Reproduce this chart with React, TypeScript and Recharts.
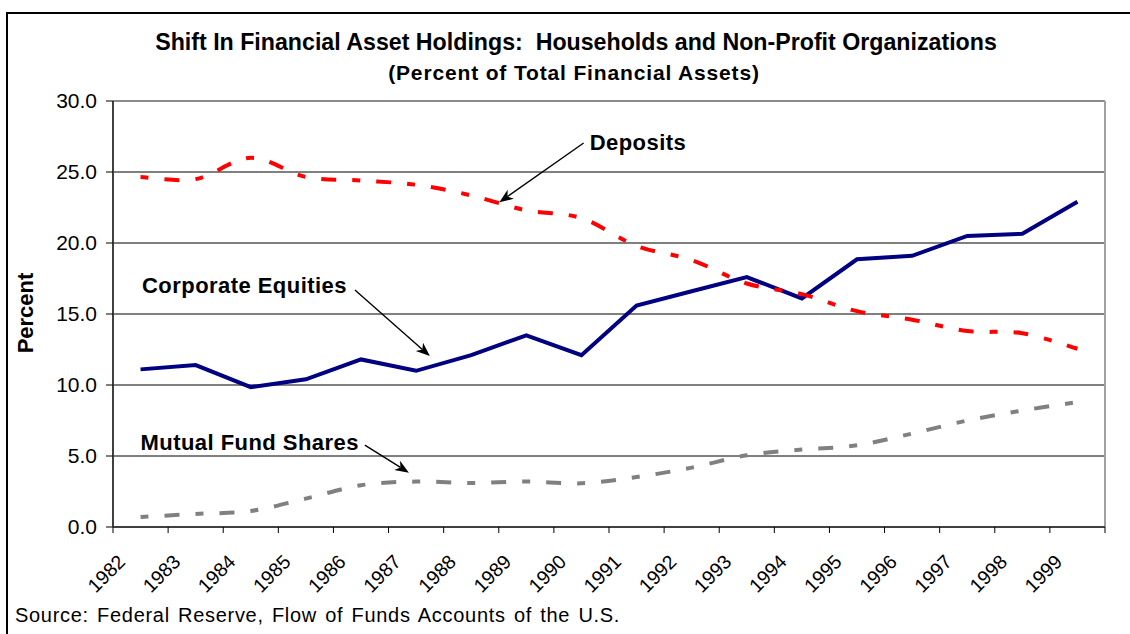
import React from 'react';
import { LineChart, Line, XAxis, YAxis, CartesianGrid, ReferenceLine } from 'recharts';

const YEARS = ['1982', '1983', '1984', '1985', '1986', '1987', '1988', '1989', '1990', '1991', '1992', '1993', '1994', '1995', '1996', '1997', '1998', '1999'];
const DEPOSITS = [24.65, 24.5, 26.0, 24.65, 24.4, 24.1, 23.35, 22.3, 21.75, 19.8, 18.8, 17.15, 16.4, 15.2, 14.6, 13.8, 13.65, 12.55];
const EQUITIES = [11.1, 11.4, 9.85, 10.4, 11.8, 11.0, 12.1, 13.5, 12.1, 15.6, 16.6, 17.6, 16.1, 18.85, 19.1, 20.5, 20.65, 22.9];
const MUTUAL = [0.7, 0.92, 1.13, 2.0, 2.94, 3.2, 3.1, 3.2, 3.08, 3.52, 4.18, 5.05, 5.45, 5.75, 6.58, 7.5, 8.2, 8.8];
const Y_TICKS = [0, 5, 10, 15, 20, 25, 30];

const TITLE = 'Shift In Financial Asset Holdings:  Households and Non-Profit Organizations';
const SUBTITLE = '(Percent of Total Financial Assets)';
const SOURCE = 'Source: Federal Reserve, Flow of Funds Accounts of the U.S.';
const Y_LABEL = 'Percent';

const ANNOTATIONS = [
  { text: 'Deposits', from: [8.54, 27.04], to: [7.01, 22.87], anchor: 'start', dx: 6, dy: 7 },
  { text: 'Corporate Equities', from: [4.39, 16.69], to: [5.75, 12.04], anchor: 'end', dx: -8, dy: 3 },
  { text: 'Mutual Fund Shares', from: [4.57, 5.77], to: [5.37, 3.82], anchor: 'end', dx: -6, dy: 5 },
];

const data = YEARS.map((year, i) => ({
  x: i + 0.5,
  year,
  deposits: DEPOSITS[i],
  equities: EQUITIES[i],
  mutual: MUTUAL[i],
}));
const BOUNDARY_TICKS = YEARS.map((_, i) => i).concat([YEARS.length]);

const W = 1130;
const H = 634;
const MARGIN = { top: 101, right: 25, bottom: 0, left: 0 };
const Y_AXIS_W = 113;
const X_AXIS_H = 107;
const PLOT_W = W - MARGIN.left - MARGIN.right - Y_AXIS_W;
const HALF_BAND = PLOT_W / YEARS.length / 2;
const FONT = '"Liberation Sans", Arial, sans-serif';

// Excel-like smoothing (Catmull-Rom style bezier)
function smoothCurve(context: any) {
  let pts: number[][] = [];
  return {
    areaStart() {},
    areaEnd() {},
    lineStart() {
      pts = [];
    },
    lineEnd() {
      const n = pts.length;
      if (!n) return;
      context.moveTo(pts[0][0], pts[0][1]);
      const t = 1 / 6;
      for (let i = 0; i < n - 1; i++) {
        const p0 = pts[i - 1] || pts[i];
        const p1 = pts[i];
        const p2 = pts[i + 1];
        const p3 = pts[i + 2] || p2;
        context.bezierCurveTo(
          p1[0] + (p2[0] - p0[0]) * t,
          p1[1] + (p2[1] - p0[1]) * t,
          p2[0] - (p3[0] - p1[0]) * t,
          p2[1] - (p3[1] - p1[1]) * t,
          p2[0],
          p2[1]
        );
      }
    },
    point(x: number, y: number) {
      pts.push([x, y]);
    },
  };
}

const XTick = (props: any) => {
  const { x, y, payload } = props;
  const i = payload.value;
  if (i >= YEARS.length) return null;
  const ax = x + HALF_BAND - 14;
  const ay = y + 28;
  return (
    <text
      x={ax}
      y={ay}
      transform={`rotate(-45 ${ax} ${ay})`}
      textAnchor="end"
      fontSize={19.5}
      fontFamily={FONT}
      fill="#000"
    >
      {YEARS[i]}
    </text>
  );
};

const makeArrow = (a: any) => (p: any) => {
  const { x1, y1, x2, y2 } = p;
  const ang = Math.atan2(y2 - y1, x2 - x1);
  const c = Math.cos(ang);
  const s = Math.sin(ang);
  const L = 14;
  const Wd = 5.5;
  const notch = 10;
  const bx = x2 - L * c;
  const by = y2 - L * s;
  const nx = x2 - notch * c;
  const ny = y2 - notch * s;
  const pts = [
    [x2, y2],
    [bx - Wd * s, by + Wd * c],
    [nx, ny],
    [bx + Wd * s, by - Wd * c],
  ]
    .map((q) => q.join(','))
    .join(' ');
  return (
    <g>
      <line x1={x1} y1={y1} x2={nx} y2={ny} stroke="#000" strokeWidth={1.4} />
      <polygon points={pts} fill="#000" />
      <text
        x={x1 + a.dx}
        y={y1 + a.dy}
        textAnchor={a.anchor}
        fontSize={22}
        fontWeight="bold"
        fontFamily={FONT}
        letterSpacing={0.45}
        fill="#000"
      >
        {a.text}
      </text>
    </g>
  );
};

export default function App() {
  return (
    <div
      style={{
        position: 'absolute',
        left: 0,
        top: 0,
        width: W,
        height: H,
        overflow: 'hidden',
        background: '#fff',
        fontFamily: FONT,
      }}
    >
      <div
        style={{
          position: 'absolute',
          left: 6,
          top: 12,
          width: 1300,
          height: 800,
          border: '2px solid #000',
          boxSizing: 'border-box',
        }}
      />
      <div style={{ position: 'absolute', left: 0, top: 0 }}>
        <LineChart width={W} height={H} data={data} margin={MARGIN}>
          <CartesianGrid stroke="#000" strokeWidth={1} vertical={false} />
          <XAxis
            dataKey="x"
            type="number"
            domain={[0, YEARS.length]}
            ticks={BOUNDARY_TICKS}
            interval={0}
            height={X_AXIS_H}
            tickSize={6}
            tickLine={{ stroke: '#000', strokeWidth: 1 }}
            axisLine={{ stroke: '#404040', strokeWidth: 2 }}
            tick={<XTick />}
          />
          <YAxis
            type="number"
            domain={[0, 30]}
            ticks={Y_TICKS}
            interval={0}
            width={Y_AXIS_W}
            tickSize={7}
            tickMargin={9}
            tickFormatter={(v: number) => v.toFixed(1)}
            tick={{ fontSize: 21, fill: '#000', fontFamily: FONT }}
            tickLine={{ stroke: '#000', strokeWidth: 1 }}
            axisLine={{ stroke: '#404040', strokeWidth: 2 }}
          />
          <ReferenceLine y={30} stroke="#8c8c8c" strokeWidth={2} />
          <ReferenceLine x={YEARS.length} stroke="#a0a0a0" strokeWidth={2} />
          <Line
            dataKey="mutual"
            type={smoothCurve as any}
            stroke="#808080"
            strokeWidth={4}
            strokeDasharray="8 16 15 16"
            dot={false}
            activeDot={false}
            isAnimationActive={false}
          />
          <Line
            dataKey="equities"
            type="linear"
            stroke="#000080"
            strokeWidth={4}
            dot={false}
            activeDot={false}
            isAnimationActive={false}
          />
          <Line
            dataKey="deposits"
            type={smoothCurve as any}
            stroke="#ff0000"
            strokeWidth={4}
            strokeDasharray="8 16 15 16"
            dot={false}
            activeDot={false}
            isAnimationActive={false}
          />
          {ANNOTATIONS.map((a) => (
            <ReferenceLine
              key={a.text}
              segment={[
                { x: a.from[0], y: a.from[1] },
                { x: a.to[0], y: a.to[1] },
              ]}
              shape={makeArrow(a)}
            />
          ))}
        </LineChart>
      </div>
      <svg
        width={W}
        height={H}
        style={{ position: 'absolute', left: 0, top: 0, pointerEvents: 'none' }}
      >
        <text x={576} y={50} textAnchor="middle" fontSize={23.2} fontWeight="bold" fontFamily={FONT} fill="#000" style={{ whiteSpace: 'pre' }}>
          {TITLE}
        </text>
        <text x={574} y={80} textAnchor="middle" fontSize={21} fontWeight="bold" fontFamily={FONT} fill="#000" letterSpacing={0.85}>
          {SUBTITLE}
        </text>
        <text x={33} y={313} transform="rotate(-90 33 313)" textAnchor="middle" fontSize={22} fontWeight="bold" fontFamily={FONT} fill="#000">
          {Y_LABEL}
        </text>
        <text x={15} y={622} fontSize={20} fontFamily={FONT} fill="#000" letterSpacing={0.7} wordSpacing={2}>
          {SOURCE}
        </text>
      </svg>
    </div>
  );
}
